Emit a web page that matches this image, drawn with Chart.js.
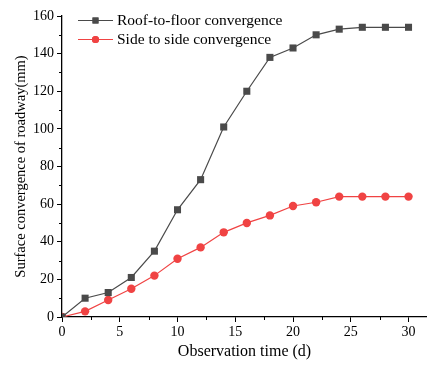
<!DOCTYPE html>
<html>
<head>
<meta charset="utf-8">
<script src="https://cdn.jsdelivr.net/npm/chart.js@4"></script>
<style>
  html, body { margin: 0; padding: 0; background: #fff; overflow: hidden; }
  #wrap { width: 427px; height: 365px; }
  canvas { display: block; }
</style>
</head>
<body>
<div id="wrap"><canvas id="chart"></canvas></div>
<script>
// data
const days = [0, 2, 4, 6, 8, 10, 12, 14, 16, 18, 20, 22, 24, 26, 28, 30];
const roofFloor = [0, 10, 13, 21, 35, 57, 73, 101, 120, 138, 143, 150, 153, 154, 154, 154];
const sideSide = [0, 3, 9, 15, 22, 31, 37, 45, 50, 54, 59, 61, 64, 64, 64, 64];
const seriesNames = ['Roof-to-floor convergence', 'Side to side convergence'];
const xMajorTicks = [0, 5, 10, 15, 20, 25, 30];
const xMinorTicks = [2.5, 7.5, 12.5, 17.5, 22.5, 27.5];
const yMinorTicks = [10, 30, 50, 70, 90, 110, 130, 150];

const FONT = 'Liberation Serif';
const GRAY = '#4a4a4a';
const RED = '#f04343';

const toPoints = function(vals) {
  return vals.map((v, i) => ({x: days[i], y: v}));
};

// minor ticks + legend with line and marker
const extras = {
  id: 'extras',
  afterDraw(chart) {
    const ctx = chart.ctx;
    const xs = chart.scales.x, ys = chart.scales.y;
    const area = chart.chartArea;
    ctx.save();
    ctx.strokeStyle = '#000';
    ctx.lineWidth = 1;
    ctx.beginPath();
    for (const v of xMinorTicks) {
      const px = Math.round(xs.getPixelForValue(v)) + 0.5;
      ctx.moveTo(px, area.bottom);
      ctx.lineTo(px, area.bottom + 3);
    }
    for (const v of yMinorTicks) {
      const py = Math.round(ys.getPixelForValue(v)) + 0.5;
      ctx.moveTo(area.left, py);
      ctx.lineTo(area.left - 3, py);
    }
    ctx.stroke();

    // legend
    const rows = [20, 39];
    chart.data.datasets.forEach((ds, i) => {
      const y = rows[i];
      ctx.strokeStyle = ds.borderColor;
      ctx.lineWidth = 1;
      ctx.beginPath();
      ctx.moveTo(78, y + 0.5);
      ctx.lineTo(113, y + 0.5);
      ctx.stroke();
      ctx.fillStyle = ds.pointBackgroundColor;
      Chart.helpers.drawPoint(ctx, {pointStyle: ds.pointStyle, radius: ds.pointRadius * 0.85, borderWidth: 0}, 95.5, y + 0.5);
      ctx.fill();
      ctx.fillStyle = '#000';
      ctx.font = '15.5px "' + FONT + '"';
      ctx.textBaseline = 'middle';
      ctx.textAlign = 'left';
      ctx.fillText(ds.label, 117, y + 1);
    });
    ctx.restore();
  }
};

const ctx = document.getElementById('chart').getContext('2d');
const chart = new Chart(ctx, {
  type: 'line',
  data: {
    datasets: [{
      label: seriesNames[0],
      data: toPoints(roofFloor),
      borderColor: GRAY,
      backgroundColor: GRAY,
      pointBackgroundColor: GRAY,
      pointBorderWidth: 0,
      borderWidth: 1.2,
      pointStyle: 'rect',
      pointRadius: 5,
      tension: 0
    }, {
      label: seriesNames[1],
      data: toPoints(sideSide),
      borderColor: RED,
      backgroundColor: RED,
      pointBackgroundColor: RED,
      pointBorderWidth: 0,
      borderWidth: 1.2,
      pointStyle: 'circle',
      pointRadius: 4.2,
      tension: 0
    }]
  },
  options: {
    responsive: true,
    maintainAspectRatio: false,
    animation: false,
    layout: {autoPadding: false, padding: {top: 16, right: 0, left: 0, bottom: 0}},
    plugins: {
      legend: {display: false},
      tooltip: {enabled: false}
    },
    scales: {
      x: {
        type: 'linear',
        min: 0,
        max: 31.6,
        afterFit: s => { s.height = 48; },
        afterBuildTicks: s => { s.ticks = xMajorTicks.map(v => ({value: v})); },
        grid: {drawOnChartArea: false, tickLength: 5, color: '#000'},
        border: {color: '#000', width: 1.3},
        ticks: {color: '#000', font: {family: FONT, size: 14}, padding: 2, maxRotation: 0},
        title: {display: true, text: 'Observation time (d)', color: '#000', font: {family: FONT, size: 16}, padding: {top: 5}}
      },
      y: {
        min: 0,
        max: 160,
        afterFit: s => { s.width = 62; },
        grid: {drawOnChartArea: false, tickLength: 5, color: '#000'},
        border: {color: '#000', width: 1.3},
        ticks: {stepSize: 20, color: '#000', font: {family: FONT, size: 14}, padding: 3},
        title: {display: true, text: 'Surface convergence of roadway(mm)', color: '#000', font: {family: FONT, size: 14.5}, padding: {top: 12, bottom: 4}}
      }
    }
  },
  plugins: [extras]
});
</script>
</body>
</html>
